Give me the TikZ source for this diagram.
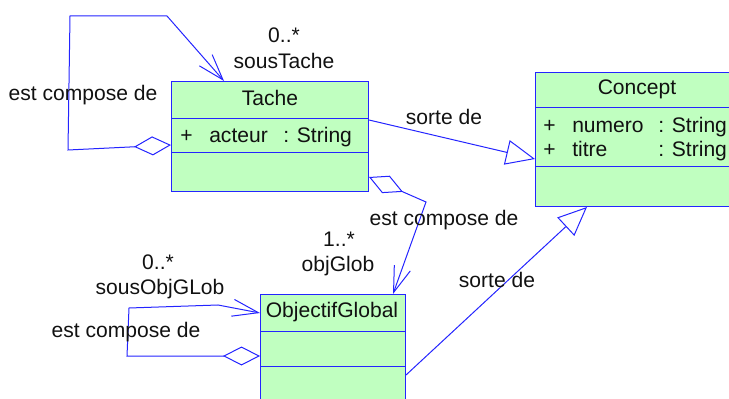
\documentclass[tikz,border=0pt]{standalone}
\usepackage{fontspec}
\setmainfont{Liberation Sans}
\usepackage{xcolor}
\usepackage{tikz}
\usetikzlibrary{arrows.meta,calc}
\definecolor{UmlBlue}{HTML}{2424FF}
\definecolor{UmlGreen}{HTML}{C0FFC0}
\definecolor{UmlText}{HTML}{111111}

\begin{document}
\begin{tikzpicture}[
    x=0.75pt, y=-0.75pt,
    font=\fontsize{15.8}{19}\selectfont,
    classbox/.style={rectangle, draw=UmlBlue, fill=UmlGreen, line width=0.75pt, anchor=north west, inner sep=0pt},
    sepline/.style={UmlBlue, line width=0.75pt},
    assoc/.style={UmlBlue, line width=0.75pt, {Diamond[open, length=27.75pt, width=14.25pt]}-{Straight Barb[length=19.5pt, width=12.75pt]}},
    inherit/.style={UmlBlue, line width=0.75pt, -{Triangle[open, length=21.75pt, width=18.75pt]}},
    lbl/.style={anchor=base, text=UmlText, inner sep=0pt},
    attr/.style={anchor=base west, text=UmlText, inner sep=0pt}
]
\useasboundingbox (0,0) rectangle (729,399);
\clip (0,0) rectangle (729,399);

% Classes
\node[classbox, minimum width=147.75pt, minimum height=82.5pt] (tache) at (171,81) {};
\node[classbox, minimum width=172.5pt, minimum height=100.5pt] (concept) at (535,72) {};
\node[classbox, minimum width=108.75pt, minimum height=97.5pt] (objglob) at (260,294) {};

% Compartments
\draw[sepline] ($(tache.north west)+(0,38)$) -- ($(tache.north east)+(0,38)$);
\draw[sepline] ($(tache.north west)+(0,72)$) -- ($(tache.north east)+(0,72)$);
\draw[sepline] ($(concept.north west)+(0,36)$) -- ($(concept.north east)+(0,36)$);
\draw[sepline] ($(concept.north west)+(0,95)$) -- ($(concept.north east)+(0,95)$);
\draw[sepline] ($(objglob.north west)+(0,38)$) -- ($(objglob.north east)+(0,38)$);
\draw[sepline] ($(objglob.north west)+(0,72)$) -- ($(objglob.north east)+(0,72)$);

% Class texts
\node[lbl] (tacheName) at (270,106) {Tache};
\node[attr] (tachePlus) at (180,143) {+};
\node[attr] (tacheActeur) at (209,143) {acteur};
\node[attr] (tacheActeurT) at (283,143) {: String};

\node[lbl] (conceptName) at (637,95) {Concept};
\node[attr] (conceptPlusA) at (543,133) {+};
\node[attr] (conceptNumero) at (572,133) {numero};
\node[attr] (conceptNumeroT) at (658,133) {: String};
\node[attr] (conceptPlusB) at (543,157) {+};
\node[attr] (conceptTitre) at (572,157) {titre};
\node[attr] (conceptTitreT) at (658,157) {: String};

\node[lbl] (objglobName) at (332,318) {ObjectifGlobal};

% Arrows
\draw[assoc] ($(tache.north west)+(0,64)$) -- (68,150) -- (70,16) -- (167,16) -- ($(tache.north west)+(53,0)$);
\draw[inherit] ($(tache.north east)+(0,39)$) -- ($(concept.north west)+(0,87)$);
\draw[assoc] ($(tache.north east)+(0,96)$) -- (426,202) -- ($(objglob.north west)+(133,0)$);
\draw[assoc] ($(objglob.north west)+(0,62)$) -- (127,356) -- (129,308) -- (218,305) -- ($(objglob.north west)+(0,19)$);
\draw[inherit] ($(objglob.north east)+(0,81)$) -- ($(concept.south west)+(52,0)$);

% Labels
\node[lbl] (mulTache) at (284,43) {0..*};
\node[lbl] (roleTache) at (284,69) {sousTache};
\node[lbl] (compTache) at (83,101) {est compose de};
\node[lbl] (sorteTache) at (444,125) {sorte de};
\node[lbl] (compObj) at (444,226) {est compose de};
\node[lbl] (mulObj) at (339,247) {1..*};
\node[lbl] (roleObj) at (338,272) {objGlob};
\node[lbl] (mulSous) at (158,270) {0..*};
\node[lbl] (roleSous) at (160,295) {sousObjGLob};
\node[lbl] (compSous) at (126,337) {est compose de};
\node[lbl] (sorteObj) at (497,288) {sorte de};

\end{tikzpicture}
\end{document}
